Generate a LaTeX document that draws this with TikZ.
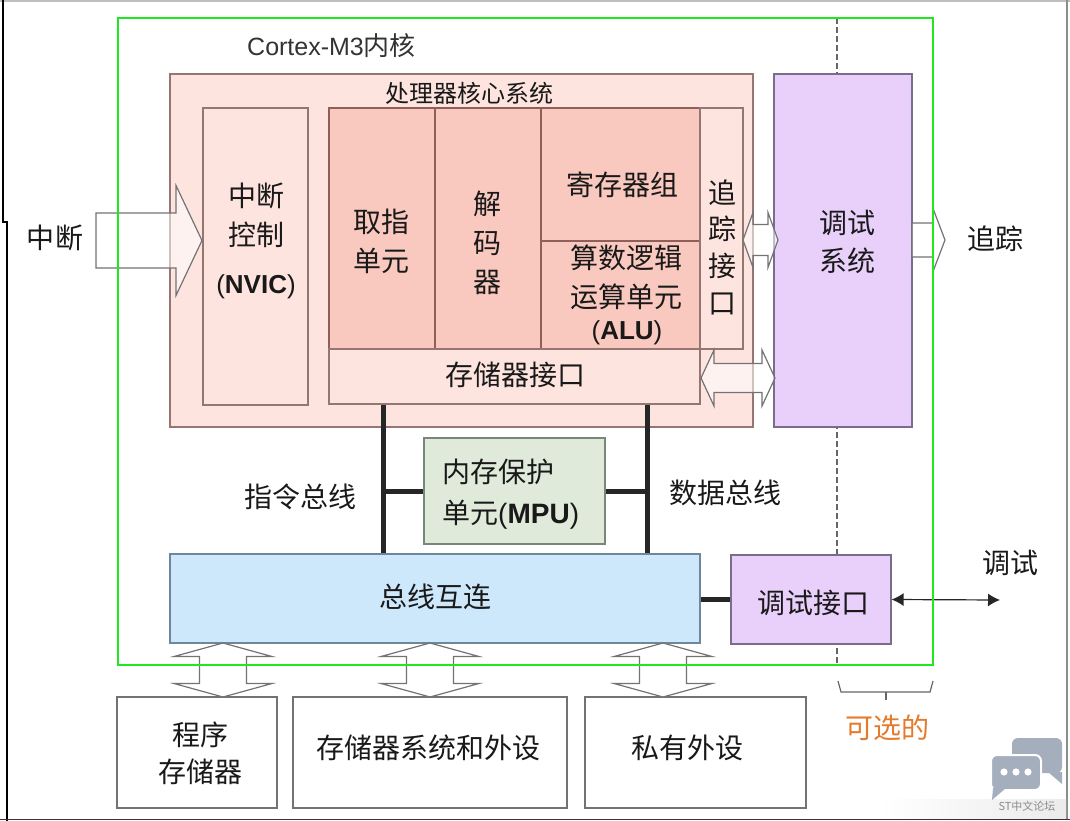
\documentclass[tikz,border=0pt]{standalone}
\usepackage{fontspec}
\setmainfont{Noto Sans CJK SC}
\newfontfamily\arialf{Liberation Sans}
\usetikzlibrary{arrows.meta}
\definecolor{pinkL}{RGB}{253,228,223}
\definecolor{pinkD}{RGB}{249,201,191}
\definecolor{pinkB}{RGB}{150,118,112}
\definecolor{pinkE}{RGB}{145,95,90}
\definecolor{lav}{RGB}{233,208,251}
\definecolor{lavB}{RGB}{120,110,140}
\definecolor{mpuF}{RGB}{224,234,218}
\definecolor{mpuB}{RGB}{120,135,120}
\definecolor{busF}{RGB}{205,231,251}
\definecolor{busB}{RGB}{110,135,155}
\definecolor{grn}{RGB}{30,232,30}
\definecolor{arrB}{RGB}{115,115,115}
\definecolor{txtc}{RGB}{25,25,25}
\definecolor{orng}{RGB}{228,122,42}
\definecolor{wmk}{RGB}{165,174,188}
\newcommand\fsz[2]{\fontsize{#1}{#2}\selectfont}
\newcommand\hdarr[6]{\draw[hollow] (#1,#3) -- ({#1+#6},{#3-#5}) -- ({#1+#6},{#3-#4}) -- ({#2-#6},{#3-#4}) -- ({#2-#6},{#3-#5}) -- (#2,#3) -- ({#2-#6},{#3+#5}) -- ({#2-#6},{#3+#4}) -- ({#1+#6},{#3+#4}) -- ({#1+#6},{#3+#5}) -- cycle;}
\newcommand\vdarr[6]{\draw[hollow] (#3,#1) -- ({#3-#5},{#1+#6}) -- ({#3-#4},{#1+#6}) -- ({#3-#4},{#2-#6}) -- ({#3-#5},{#2-#6}) -- (#3,#2) -- ({#3+#5},{#2-#6}) -- ({#3+#4},{#2-#6}) -- ({#3+#4},{#1+#6}) -- ({#3+#5},{#1+#6}) -- cycle;}
\newcommand\hsarr[6]{\draw[hollow] (#1,{#3-#4}) -- ({#2-#6},{#3-#4}) -- ({#2-#6},{#3-#5}) -- (#2,#3) -- ({#2-#6},{#3+#5}) -- ({#2-#6},{#3+#4}) -- (#1,{#3+#4}) -- cycle;}
\begin{document}
\begin{tikzpicture}[x=1pt,y=-1pt,
  box/.style={draw=pinkB, line width=1.1pt, inner sep=0pt},
  dbox/.style={draw=pinkE, line width=1.1pt, inner sep=0pt, fill=pinkD},
  hollow/.style={draw=arrB, line width=1.2pt, fill=white, fill opacity=0.55, line join=miter},
  busline/.style={line width=5pt, draw=black!85},
  txt/.style={inner sep=0pt, align=center, text=txtc, font=\fsz{28}{39}},
  btxt/.style={inner sep=0pt, align=center, text=txtc, font=\arialf\fsz{26}{30}}]
\useasboundingbox (0,0) rectangle (1070,821);
% optional divider
\coordinate (dtop) at (837,18);
\coordinate (dbot) at (837,665);
\draw[draw=black!60, line width=1.2pt, dash pattern=on 6pt off 3pt] (dtop) -- (dbot);
% processor core system
\node[box, fill=pinkL, minimum width=583pt, minimum height=353pt] (proc) at (461.5,250.5) {};
\node[box, fill=pinkL, minimum width=105pt, minimum height=297pt] (nvic) at (255.5,256.5) {};
\node[dbox, minimum width=106pt, minimum height=241pt] (fetch) at (382,228.5) {};
\node[dbox, minimum width=106pt, minimum height=241pt] (decode) at (488,228.5) {};
\node[dbox, minimum width=159pt, minimum height=133pt] (regs) at (620.5,174.5) {};
\node[dbox, minimum width=159pt, minimum height=108pt] (alu) at (620.5,295) {};
\node[box, fill=pinkL, minimum width=43pt, minimum height=241pt] (trace) at (721.5,228.5) {};
\node[box, fill=pinkL, minimum width=371pt, minimum height=55pt] (memif) at (514.5,376.5) {};
% debug system
\node[draw=lavB, line width=1.1pt, fill=lav, inner sep=0pt, minimum width=138pt, minimum height=353pt] (dbgsys) at (843,250.5) {};
% MPU, bus, debug interface
\node[draw=mpuB, line width=1.1pt, fill=mpuF, inner sep=0pt, minimum width=181pt, minimum height=106pt] (mpu) at (514.5,491) {};
\node[draw=busB, line width=1.1pt, fill=busF, inner sep=0pt, minimum width=530pt, minimum height=89pt] (bus) at (435,598.5) {};
\node[draw=lavB, line width=1.1pt, fill=lav, inner sep=0pt, minimum width=160pt, minimum height=89pt] (dbgif) at (811,599.5) {};
% external boxes
\node[draw=black!55, line width=1.1pt, fill=white, inner sep=0pt, minimum width=160pt, minimum height=111pt] (progmem) at (197,752.5) {};
\node[draw=black!55, line width=1.1pt, fill=white, inner sep=0pt, minimum width=274pt, minimum height=111pt] (memsys) at (430,752.5) {};
\node[draw=black!55, line width=1.1pt, fill=white, inner sep=0pt, minimum width=221pt, minimum height=111pt] (priv) at (695.5,752.5) {};
% buses
\coordinate (ib) at (383,491);
\coordinate (db) at (647,491);
\draw[busline] (ib |- memif.south) -- (ib |- bus.north);
\draw[busline] (db |- memif.south) -- (db |- bus.north);
\draw[busline] (ib) -- (mpu.west);
\draw[busline] (db) -- (mpu.east);
\draw[busline] (dbgif.west -| bus.east) -- (dbgif.west);
\coordinate (dbgout) at (1000,600);
\draw[line width=1.2pt, black!85, {Latex[length=12pt,width=13pt]}-{Latex[length=12pt,width=13pt]}] (dbgif.east) -- (dbgout);
% hollow arrows
\hsarr{96}{202}{240.5}{27.5}{55}{26}
\hdarr{743}{778}{240}{15.5}{27.5}{10}
\hdarr{701}{775}{378}{14.5}{28}{13}
\hsarr{912}{945}{240}{17}{31.5}{12}
\vdarr{643}{697}{223}{23.5}{49}{13.5}
\vdarr{643}{697}{430}{23.5}{49}{13.5}
\vdarr{643}{697}{663}{23.5}{49}{13.5}
% core frame
\draw[grn, line width=2.8pt] (118,18) rectangle (933,665);
% brace
\draw[black!60, line width=1.2pt] (838,681) -- (841,692) -- (930,692) -- (933,681);
\draw[black!60, line width=1.2pt] (886,692) -- (886,700);
% texts
\node[txt, anchor=west, text=black!80] (title) at (247,46) {{\arialf\fsz{25}{30}Cortex-M3}\fsz{26}{30}内核};
\node[txt, font=\fsz{24}{30}] (proct) at (469,93) {处理器核心系统};
\node[txt] (nv1) at (256,196) {中断};
\node[txt] (nv2) at (256,235) {控制};
\node[btxt] (nv3) at (256,287) {(\textbf{NVIC})};
\node[txt] (fetcht) at (381,241.5) {取指\\单元};
\node[txt] (dect) at (487,242.5) {解\\码\\器};
\node[txt] (regt) at (622,185) {寄存器组};
\node[txt] (alut) at (626,277.5) {算数逻辑\\运算单元};
\node[btxt] (alut2) at (627,333) {(\textbf{ALU})};
\node[txt, font=\fsz{28}{36.7}] (tracet) at (722,247) {追\\踪\\接\\口};
\node[txt] (memift) at (515,375) {存储器接口};
\node[txt, font=\fsz{28}{38}] (dbgsyst) at (847,242) {调试\\系统};
\node[txt] (intt) at (55,238) {中断};
\node[txt] (tracelbl) at (995,239) {追踪};
\node[txt, anchor=west] (mpu1) at (442,472) {内存保护};
\node[txt, anchor=west] (mpu2) at (442,515) {单元{\arialf (\textbf{MPU})}};
\node[txt] (ibt) at (300,497) {指令总线};
\node[txt] (dbt) at (725,493) {数据总线};
\node[txt] (bust) at (435,597) {总线互连};
\node[txt] (dbgift) at (813,603) {调试接口};
\node[txt] (dbgt) at (1010,563) {调试};
\node[txt, text=orng] (optt) at (887,728) {可选的};
\node[txt, font=\fsz{28}{37}] (pmt) at (200,753.5) {程序\\存储器};
\node[txt] (mst) at (428,748) {存储器系统和外设};
\node[txt] (pvt) at (687,748) {私有外设};
% screenshot edges
\draw[black!25, line width=1.5pt] (0,0.8) -- (1070,0.8);
\draw[black, line width=1.6pt] (3,0) -- (3,222) -- (7,222) -- (7,821);
\draw[black!45, line width=1.2pt] (1067,0) -- (1067,819);
\draw[black!80, line width=1.4pt] (0,819.5) -- (1070,819.5);
% watermark
\shade[left color=white, right color=black!8] (880,799) rectangle (1066,818);
\fill[wmk, rounded corners=6pt] (1012,738) rectangle (1062,773);
\fill[wmk] (1048,772) -- (1062,772) -- (1062,784) -- cycle;
\draw[white, line width=2pt, fill=wmk, rounded corners=6pt] (991,755) rectangle (1041,790);
\fill[wmk] (993,788) -- (1006,788) -- (992,800) -- cycle;
\fill[white] (1004,772) circle (3.6pt) (1016,772) circle (3.6pt) (1028,772) circle (3.6pt);
\node[inner sep=0pt, font=\fsz{11}{13}, text=black!45] (wmt) at (1027,806) {ST中文论坛};
\end{tikzpicture}
\end{document}
